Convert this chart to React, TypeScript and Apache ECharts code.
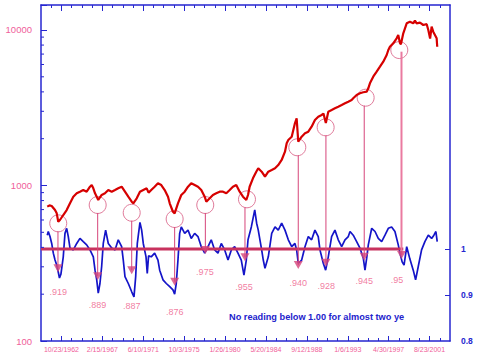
import React, { useEffect, useRef } from 'react';
import * as echarts from 'echarts';

// ---- axis tick labels ----
const X_LABEL_DATES = ['10/23/1962', '2/15/1967', '6/10/1971', '10/3/1975', '1/26/1980', '5/20/1984', '9/12/1988', '1/6/1993', '4/30/1997', '8/23/2001'];
const LEFT_LABELS = [100, 1000, 10000];
const LEFT_MINOR = [200, 300, 400, 500, 600, 700, 800, 900, 2000, 3000, 4000, 5000, 6000, 7000, 8000, 9000];
const RIGHT_LABELS = [0.8, 0.9, 1];
const RIGHT_TICKS = [0.9, 1];

// ---- Dow Jones (left, log) : [year, value] ----
const DOW: [number, number][] = [
  [1961.31, 731], [1961.55, 745], [1961.78, 738], [1962.13, 695], [1962.31, 662], [1962.47, 585], [1962.65, 600],
  [1963.0, 646], [1963.36, 695], [1963.71, 768], [1964.06, 847], [1964.42, 891], [1964.76, 912], [1965.11, 935],
  [1965.47, 912], [1965.82, 982], [1966.0, 1007], [1966.17, 959], [1966.35, 891], [1966.53, 847], [1966.69, 807],
  [1967.05, 869], [1967.4, 891], [1967.75, 935], [1968.11, 912], [1968.46, 935], [1968.8, 959], [1969.16, 982],
  [1969.51, 912], [1969.86, 847], [1970.22, 787], [1970.39, 768], [1970.75, 827], [1971.09, 912], [1971.44, 935],
  [1971.8, 959], [1972.0, 900], [1972.28, 935], [1972.64, 982], [1972.99, 1033], [1973.34, 1007], [1973.7, 935],
  [1974.05, 847], [1974.23, 768], [1974.57, 678], [1974.75, 662], [1975.1, 768], [1975.45, 869], [1975.81, 912],
  [1976.16, 982], [1976.5, 1033], [1976.86, 1007], [1977.21, 982], [1977.56, 935], [1977.92, 847], [1978.09, 787],
  [1978.45, 827], [1978.79, 869], [1979.14, 891], [1979.5, 912], [1979.85, 912], [1980.2, 891], [1980.56, 935],
  [1980.9, 982], [1981.25, 1007], [1981.61, 912], [1981.96, 847], [1982.31, 807], [1982.49, 869], [1982.66, 982],
  [1983.01, 1112], [1983.36, 1227], [1983.57, 1290], [1983.93, 1227], [1984.28, 1139], [1984.63, 1227],
  [1984.99, 1258], [1985.34, 1290], [1985.68, 1354], [1986.04, 1459], [1986.39, 1650], [1986.57, 1868],
  [1986.74, 1962], [1987.1, 2060], [1987.44, 2512], [1987.62, 2705], [1987.73, 2167], [1987.79, 1912],
  [1988.15, 2060], [1988.5, 2167], [1988.85, 2218], [1989.2, 2388], [1989.55, 2637], [1989.9, 2770],
  [1990.26, 2841], [1990.45, 2900], [1990.7, 2520], [1990.96, 2984], [1991.31, 3059], [1991.66, 3137],
  [1992.01, 3212], [1992.37, 3294], [1992.72, 3378], [1993.07, 3459], [1993.42, 3546], [1993.59, 3638],
  [1993.95, 3821], [1994.3, 3917], [1994.65, 3976], [1995.01, 4011], [1995.18, 4217], [1995.35, 4541],
  [1995.7, 5006], [1996.06, 5393], [1996.41, 5807], [1996.76, 6255], [1997.12, 6907], [1997.29, 7437],
  [1997.46, 7808], [1997.81, 8213], [1998.17, 8844], [1998.34, 9286], [1998.52, 8240], [1998.62, 8100],
  [1998.87, 9524], [1999.23, 11043], [1999.57, 11309], [1999.92, 11043], [2000.1, 11500], [2000.28, 11043],
  [2000.63, 11143], [2000.98, 10770], [2001.34, 10900], [2001.51, 10000], [2001.7, 8800], [2001.86, 10500],
  [2002.03, 9750], [2002.21, 9286], [2002.39, 8844], [2002.45, 7808],
];

// ---- indicator ratio (right axis) : [year, value] ----
const RATIO: [number, number][] = [
  [1961.31, 1.03], [1961.42, 1.038], [1961.6, 1.027], [1961.78, 1.012], [1961.95, 0.991], [1962.13, 0.976],
  [1962.31, 0.965], [1962.47, 0.95], [1962.6, 0.937], [1962.75, 0.945], [1963.0, 0.983], [1963.18, 1.034],
  [1963.36, 1.045], [1963.53, 1.027], [1963.71, 1.002], [1964.06, 0.998], [1964.42, 1.012], [1964.76, 1.023],
  [1965.11, 1.016], [1965.47, 1.009], [1965.82, 0.998], [1966.17, 0.983], [1966.35, 0.954], [1966.53, 0.933],
  [1966.69, 0.904], [1966.87, 0.925], [1967.05, 0.962], [1967.22, 1.012], [1967.47, 1.041], [1967.75, 1.012],
  [1968.11, 1.002], [1968.46, 0.998], [1968.8, 1.02], [1969.16, 1.005], [1969.33, 0.976], [1969.51, 0.94],
  [1969.86, 0.925], [1970.22, 0.907], [1970.46, 0.896], [1970.64, 0.94], [1970.81, 1.012], [1971.09, 1.058],
  [1971.27, 1.041], [1971.44, 1.012], [1971.73, 0.983], [1971.86, 0.947], [1972.0, 0.985], [1972.28, 0.983],
  [1972.64, 0.991], [1972.99, 0.976], [1973.17, 0.954], [1973.52, 0.933], [1973.87, 0.925], [1974.23, 0.918],
  [1974.57, 0.911], [1974.75, 0.902], [1974.92, 0.925], [1975.1, 0.976], [1975.28, 1.034], [1975.45, 1.048],
  [1975.81, 1.034], [1976.16, 1.041], [1976.5, 1.023], [1976.86, 1.034], [1977.21, 1.027], [1977.56, 1.005],
  [1977.92, 0.991], [1978.27, 1.005], [1978.61, 1.02], [1978.97, 0.998], [1979.32, 0.991], [1979.67, 1.012],
  [1980.03, 0.998], [1980.38, 0.976], [1980.73, 0.998], [1981.08, 1.005], [1981.43, 0.991], [1981.78, 0.976],
  [1982.06, 0.943], [1982.31, 0.976], [1982.49, 1.02], [1982.84, 1.048], [1983.2, 1.085], [1983.4, 1.056],
  [1983.57, 1.041], [1983.93, 0.998], [1984.1, 0.976], [1984.28, 0.958], [1984.63, 0.983], [1984.99, 1.034],
  [1985.34, 1.048], [1985.68, 1.041], [1986.04, 1.056], [1986.39, 1.041], [1986.74, 1.02], [1987.1, 1.005],
  [1987.44, 1.012], [1987.62, 0.998], [1987.79, 0.969], [1988.15, 0.976], [1988.5, 1.005], [1988.85, 1.027],
  [1989.2, 1.02], [1989.55, 1.041], [1989.9, 1.027], [1990.08, 0.998], [1990.43, 0.969], [1990.68, 0.954],
  [1990.96, 0.983], [1991.31, 1.027], [1991.66, 1.041], [1992.01, 1.02], [1992.37, 1.005], [1992.72, 1.02],
  [1993.07, 1.027], [1993.25, 1.038], [1993.59, 1.03], [1993.95, 1.016], [1994.3, 1.002], [1994.65, 0.98],
  [1994.83, 0.954], [1995.01, 0.98], [1995.18, 1.009], [1995.54, 1.045], [1995.89, 1.038], [1996.23, 1.023],
  [1996.59, 1.016], [1996.94, 1.03], [1997.29, 1.045], [1997.64, 1.048], [1997.99, 1.038], [1998.34, 1.009],
  [1998.59, 0.985], [1998.75, 0.972], [1998.95, 0.965], [1999.23, 1.005], [1999.57, 0.978], [1999.92, 0.954],
  [2000.17, 0.933], [2000.45, 0.962], [2000.8, 0.998], [2001.15, 1.016], [2001.51, 1.03], [2001.86, 1.023],
  [2002.1, 1.03], [2002.31, 1.038], [2002.45, 1.016],
];

// ---- annotations ----
const SIGNAL_YEARS = [1962.44, 1966.63, 1970.22, 1974.75, 1977.99, 1982.17, 1987.79, 1990.71, 1994.75, 1998.68];
const SIGNAL_RATIO = [0.958, 0.941, 0.954, 0.929, 0.998, 0.982, 0.965, 0.97, 0.983, 0.987];
const LINE_TOP_DOW = [508, 666, 594, 541, 666, 724, 1564, 2103, 3261, 7254];
const CIRCLE_YEARS = [1962.47, 1966.63, 1970.22, 1974.75, 1977.98, 1982.38, 1987.69, 1990.68, 1994.9, 1998.45];
const CIRCLE_DOW = [571, 749, 668, 609, 749, 815, 1761, 2367, 3670, 7430];
const SIGNAL_LABELS = ['.919', '.889', '.887', '.876', '.975', '.955', '.940', '.928', '.945', '.95'];
const LABEL_YEARS = [1962.47, 1966.6, 1970.22, 1974.75, 1977.94, 1982.06, 1987.79, 1990.74, 1994.75, 1998.2];
const LABEL_RATIO = [0.907, 0.878, 0.876, 0.862, 0.951, 0.918, 0.927, 0.92, 0.93, 0.933];
const ONE_LINE_END = 1998.87;
const NOTE = 'No reading below 1.00 for almost two ye';

const AXIS = '#2626d0';
const PINK = '#f0609a';
const RED = '#d60000';
const BLUE = '#1414c8';
const CRIMSON = '#c8325e';
const FONT = "'Liberation Sans', Arial, sans-serif";

function toYear(s: string): number {
  const [m, d, y] = s.split('/').map(Number);
  const t = Date.UTC(y, m - 1, d);
  const a = Date.UTC(y, 0, 1);
  const b = Date.UTC(y + 1, 0, 1);
  return y + (t - a) / (b - a);
}

export default function App() {
  const ref = useRef<HTMLDivElement>(null);
  useEffect(() => {
    const chart = echarts.init(ref.current!, null, { renderer: 'svg' });
    const labelYears = X_LABEL_DATES.map(toYear);
    const n = labelYears.length;
    const S = (labelYears[n - 1] - labelYears[0]) / (n - 1);
    const xMin = labelYears[0] - S / 2;
    const xMax = labelYears[n - 1] + S / 2;
    const minor: number[] = [];
    for (let i = -1; i < n; i++) {
      const base = i < 0 ? labelYears[0] - S : labelYears[i];
      for (const f of [0.25, 0.5, 0.75]) {
        const v = base + f * S;
        if (v > xMin + 1e-6 && v < xMax - 1e-6) minor.push(v);
      }
    }
    const xBase: any = {
      type: 'value', min: xMin, max: xMax, splitLine: { show: false },
      axisLabel: { show: false }, axisLine: { show: false },
    };
    const lineStyleAxis = { color: AXIS, width: 1.5 };
    const tickStyle = { color: AXIS, width: 1 };
    const option: any = {
      animation: false,
      grid: { left: 41, right: 30, top: 5, bottom: 17, containLabel: false },
      xAxis: [
        {
          ...xBase, position: 'bottom',
          axisLine: { show: true, lineStyle: lineStyleAxis },
          axisTick: { show: true, inside: true, length: 5, customValues: labelYears, lineStyle: tickStyle },
          axisLabel: {
            show: true, customValues: labelYears, color: PINK, fontSize: 7, margin: 5, fontFamily: FONT,
            formatter: (v: number) => {
              const i = labelYears.findIndex((l) => Math.abs(l - v) < 1e-4);
              return i >= 0 ? X_LABEL_DATES[i] : '';
            },
          },
        },
        { ...xBase, position: 'bottom', axisTick: { show: true, inside: true, length: 3, customValues: minor, lineStyle: tickStyle } },
        {
          ...xBase, position: 'top', axisLine: { show: true, lineStyle: lineStyleAxis },
          axisTick: { show: true, inside: true, length: 6, customValues: labelYears, lineStyle: tickStyle },
        },
        { ...xBase, position: 'top', axisTick: { show: true, inside: true, length: 3, customValues: minor, lineStyle: tickStyle } },
      ],
      yAxis: [
        {
          type: 'log', logBase: 10, min: 100, max: 14480, position: 'left',
          axisLine: { show: true, lineStyle: lineStyleAxis },
          axisTick: { show: true, inside: true, length: 6, lineStyle: tickStyle },
          axisLabel: {
            color: PINK, fontSize: 9.5, margin: 9, fontFamily: FONT,
            formatter: (v: number) => (LEFT_LABELS.includes(Math.round(v)) ? String(Math.round(v)) : ''),
          },
          splitLine: { show: false },
        },
        {
          type: 'value', min: 0.8, max: 1.5304, position: 'right',
          axisLine: { show: true, lineStyle: lineStyleAxis },
          axisTick: { show: true, inside: true, length: 5, customValues: RIGHT_TICKS, lineStyle: tickStyle },
          axisLabel: {
            customValues: RIGHT_LABELS, color: AXIS, fontWeight: 'bold', fontSize: 8.5, margin: 11, fontFamily: FONT,
            formatter: (v: number) => String(Math.round(v * 10) / 10),
          },
          splitLine: { show: false },
        },
      ],
      series: [
        {
          type: 'custom', xAxisIndex: 0, yAxisIndex: 0, silent: true, clip: false, z: 10,
          data: LEFT_MINOR.map((v) => [xMin, v]),
          renderItem: (_p: any, api: any) => {
            const c = api.coord([api.value(0), api.value(1)]);
            return { type: 'line', shape: { x1: c[0], y1: c[1], x2: c[0] + 3, y2: c[1] }, style: { stroke: AXIS, lineWidth: 1 } };
          },
        },
        {
          type: 'custom', xAxisIndex: 0, yAxisIndex: 0, silent: true, z: 1,
          data: CIRCLE_YEARS.map((y, i) => [y, CIRCLE_DOW[i]]),
          renderItem: (_p: any, api: any) => {
            const c = api.coord([api.value(0), api.value(1)]);
            return {
              type: 'circle', shape: { cx: c[0], cy: c[1], r: 8.5 },
              style: { fill: 'rgba(255,255,255,0)', stroke: '#e07a9a', lineWidth: 1 },
            };
          },
        },
        {
          type: 'line', xAxisIndex: 0, yAxisIndex: 1, data: RATIO, showSymbol: false, silent: true, z: 2,
          lineStyle: { color: BLUE, width: 1.7 },
        },
        {
          type: 'line', xAxisIndex: 0, yAxisIndex: 0, data: DOW, showSymbol: false, silent: true, z: 3,
          lineStyle: { color: RED, width: 2.2 },
        },
        {
          type: 'line', xAxisIndex: 0, yAxisIndex: 1, data: [[xMin, 1], [ONE_LINE_END, 1]], showSymbol: false, silent: true, z: 3,
          lineStyle: { color: CRIMSON, width: 3 },
        },
        {
          type: 'scatter', xAxisIndex: 0, yAxisIndex: 1, silent: true, z: 6,
          data: SIGNAL_YEARS.map((y, i) => [y, SIGNAL_RATIO[i]]),
          symbol: 'triangle', symbolRotate: 180, symbolSize: [9, 8],
          itemStyle: { color: '#d6457a' },
        },
        {
          type: 'scatter', xAxisIndex: 0, yAxisIndex: 1, silent: true, z: 6,
          data: LABEL_YEARS.map((y, i) => [y, LABEL_RATIO[i]]),
          symbolSize: 1, itemStyle: { color: 'rgba(0,0,0,0)' },
          label: {
            show: true, position: 'inside', color: '#ee5a88', fontSize: 9, fontFamily: FONT,
            formatter: (p: any) => SIGNAL_LABELS[p.dataIndex],
          },
        },
      ],
    };
    chart.setOption(option);

    const lines = SIGNAL_YEARS.map((yr, i) => {
      const x = chart.convertToPixel({ xAxisIndex: 0 } as any, yr) as unknown as number;
      const y1 = chart.convertToPixel({ yAxisIndex: 0 } as any, LINE_TOP_DOW[i]) as unknown as number;
      const y2 = chart.convertToPixel({ yAxisIndex: 1 } as any, SIGNAL_RATIO[i]) as unknown as number;
      const last = i === SIGNAL_YEARS.length - 1;
      return {
        type: 'line', silent: true, z: 5,
        shape: { x1: x, y1, x2: x, y2 },
        style: { stroke: last ? '#ea7aa0' : '#d6457a', lineWidth: last ? 2 : 1 },
      };
    });
    chart.setOption({
      graphic: [
        ...lines,
        {
          type: 'text', left: 229, top: 312, silent: true, z: 6,
          style: { text: NOTE, fill: '#2222cc', fontSize: 9.2, fontWeight: 'bold', fontFamily: FONT },
        },
      ],
    });
    return () => chart.dispose();
  }, []);
  return <div ref={ref} style={{ position: 'absolute', left: 0, top: 0, width: 480, height: 358 }} />;
}
